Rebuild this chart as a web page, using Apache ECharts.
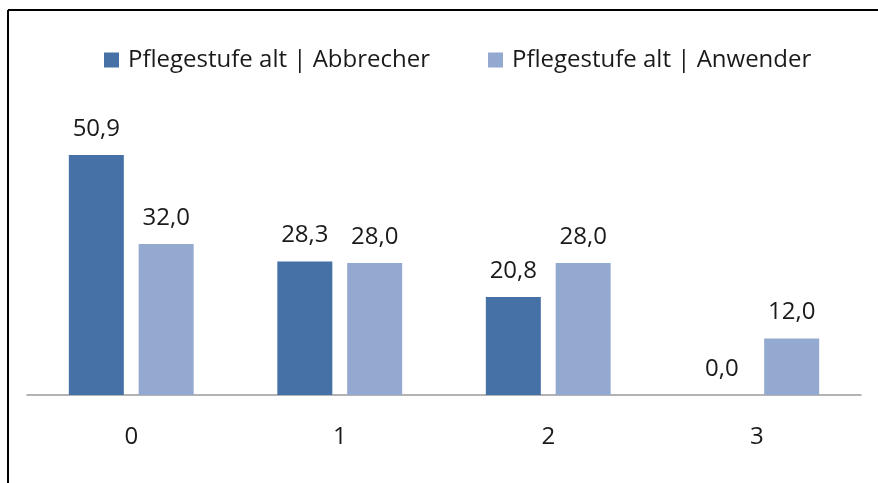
<!DOCTYPE html>
<html>
<head>
<meta charset="utf-8">
<script src="https://cdn.jsdelivr.net/npm/echarts@6/dist/echarts.min.js"></script>
<style>
  html, body { margin: 0; padding: 0; background: #fff; }
  #chart { width: 878px; height: 483px; }
</style>
</head>
<body>
<div id="chart"></div>
<script>
// data
const categories = ['0', '1', '2', '3']
const seriesNames = ['Pflegestufe alt | Abbrecher', 'Pflegestufe alt | Anwender']
const abbrecher = [50.9, 28.3, 20.8, 0.0]
const anwender = [32.0, 28.0, 28.0, 12.0]

const fontFamily = '"Open Sans", "Noto Sans", sans-serif'
const textColor = '#1a1a1a'
const fontSize = 24

const chart = echarts.init(document.getElementById('chart'))

const labelFmt = p => p.value.toFixed(1).replace('.', ',')

chart.setOption({
  animation: false,
  textStyle: { fontFamily: fontFamily },
  // frame lines (top + left) like the cropped screenshot
  graphic: [
    { type: 'line', shape: { x1: 8, y1: 10, x2: 878, y2: 10 }, style: { stroke: '#000', lineWidth: 2 } },
    { type: 'line', shape: { x1: 8, y1: 10, x2: 8, y2: 483 }, style: { stroke: '#000', lineWidth: 2 } }
  ],
  legend: {
    left: 99,
    top: 43,
    icon: 'rect',
    itemWidth: 15,
    itemHeight: 15,
    itemGap: 58,
    textStyle: { fontSize: fontSize, color: textColor, fontFamily: fontFamily, padding: [0, 0, 0, 4] },
    data: seriesNames
  },
  grid: {
    left: 27,
    right: 17,
    top: 112,
    bottom: 88
  },
  xAxis: {
    type: 'category',
    data: categories,
    axisLine: { lineStyle: { color: '#9a9a9a', width: 1.5 } },
    axisTick: { show: false },
    axisLabel: { fontSize: fontSize, color: textColor, margin: 30, fontFamily: fontFamily }
  },
  yAxis: {
    type: 'value',
    min: 0,
    max: 60,
    show: false,
    splitLine: { show: false }
  },
  series: [
    {
      name: seriesNames[0],
      type: 'bar',
      data: abbrecher,
      barWidth: 55,
      barGap: '27%',
      itemStyle: { color: '#4571a7' },
      label: {
        show: true, position: 'top', distance: 14,
        fontSize: fontSize, color: textColor, fontFamily: fontFamily,
        formatter: labelFmt
      }
    },
    {
      name: seriesNames[1],
      type: 'bar',
      data: anwender,
      barWidth: 55,
      itemStyle: { color: '#94a9cf' },
      label: {
        show: true, position: 'top', distance: 14,
        fontSize: fontSize, color: textColor, fontFamily: fontFamily,
        formatter: labelFmt
      }
    }
  ]
})
</script>
</body>
</html>
